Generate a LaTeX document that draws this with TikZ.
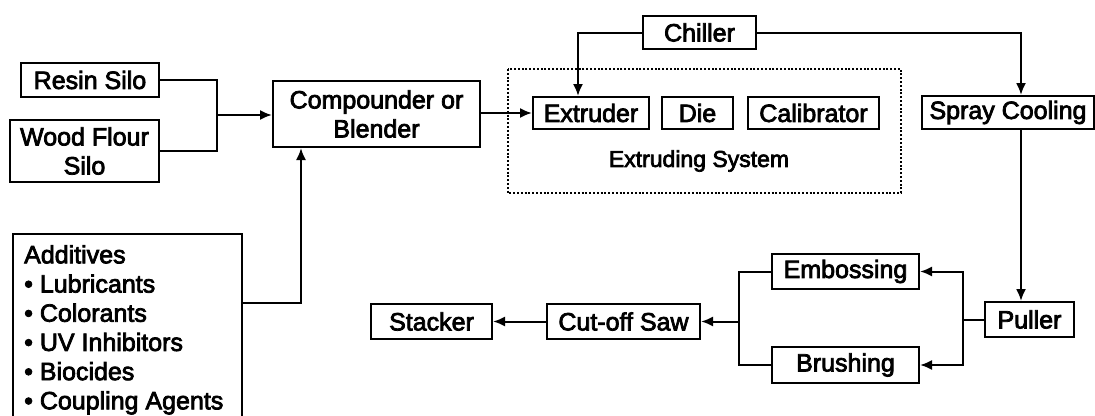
\documentclass[tikz,border=0pt]{standalone}
\usepackage{fontspec}
\setmainfont{Liberation Sans}[AutoFakeBold=3]
\usetikzlibrary{arrows.meta}
\begin{document}
\begin{tikzpicture}[x=1pt,y=1pt,
  box/.style={draw, line width=2pt, inner sep=0pt, align=center,
    font=\fontsize{25}{29}\selectfont\bfseries},
  conn/.style={line width=2pt},
  arr/.style={conn, -{Latex[length=12pt,width=10pt]}}]
\useasboundingbox (0,0) rectangle (1095,-415);
% nodes
\node[box, minimum width=138pt, minimum height=34pt] (resin) at (90,-80) {Resin Silo};
\node[box, minimum width=149pt, minimum height=62pt] (wood) at (84.5,-151) {Wood Flour\\Silo};
\node[box, minimum width=207pt, minimum height=66pt] (comp) at (376.5,-114) {Compounder or\\Blender};
\node[box, anchor=north west, minimum width=229pt, minimum height=200pt] (add) at (12,-233) {};
\node[anchor=north west, align=left, inner sep=0pt, font=\fontsize{25}{29.2}\selectfont\bfseries] (addtxt) at (24,-245)
  {Additives\\\textbullet\ Lubricants\\\textbullet\ Colorants\\\textbullet\ UV Inhibitors\\\textbullet\ Biocides\\\textbullet\ Coupling Agents};
\draw[line width=2.4pt, dash pattern=on 2pt off 1.8pt] (508,-69) rectangle (901,-193);
\node[box, minimum width=116pt, minimum height=32pt] (extr) at (591,-113) {Extruder};
\node[box, minimum width=71pt, minimum height=32pt] (die) at (697.5,-113) {Die};
\node[box, minimum width=131pt, minimum height=32pt] (cal) at (813.5,-113) {Calibrator};
\node[font=\fontsize{23}{27}\selectfont\bfseries, inner sep=0pt] (extsys) at (699,-161) {Extruding System};
\node[box, minimum width=113pt, minimum height=33pt] (chill) at (699.5,-32.5) {Chiller};
\node[box, minimum width=172pt, minimum height=33pt] (spray) at (1008,-112.5) {Spray Cooling};
\node[box, minimum width=89pt, minimum height=35pt] (pull) at (1029.5,-319.5) {Puller};
\node[box, minimum width=147pt, minimum height=35pt] (emb) at (845.5,-271.5) {Embossing};
\node[box, minimum width=147pt, minimum height=36pt] (brush) at (845.5,-365) {Brushing};
\node[box, minimum width=153pt, minimum height=35pt] (saw) at (623.5,-321.5) {Cut-off Saw};
\node[box, minimum width=121pt, minimum height=35pt] (stack) at (431.5,-321.5) {Stacker};
% junction coordinates
\coordinate (j1) at (217,-115);
\coordinate (a1) at (301,-303);
\coordinate (c1) at (578,-33);
\coordinate (c2) at (1021,-33);
\coordinate (jr) at (963,-319.5);
\coordinate (jl) at (739,-321.5);
% connectors
\draw[conn] (resin.east) -| (j1) |- (wood.east);
\draw[arr] (j1) -- (comp.west |- j1);
\draw[arr] (add.east |- a1) -- (a1) -- (a1 |- comp.south);
\draw[arr] (comp.east |- extr.west) -- (extr.west);
\draw[arr] (chill.west) -| (c1 |- extr.north);
\draw[arr] (chill.east) -| (c2 |- spray.north);
\draw[arr] (c2 |- spray.south) -- (c2 |- pull.north);
\draw[conn] (pull.west) -- (jr);
\draw[arr] (jr) |- (emb.east);
\draw[arr] (jr) |- (brush.east);
\draw[conn] (emb.west) -| (jl) |- (brush.west);
\draw[arr] (jl) -- (saw.east);
\draw[arr] (saw.west) -- (stack.east);
\end{tikzpicture}
\end{document}
